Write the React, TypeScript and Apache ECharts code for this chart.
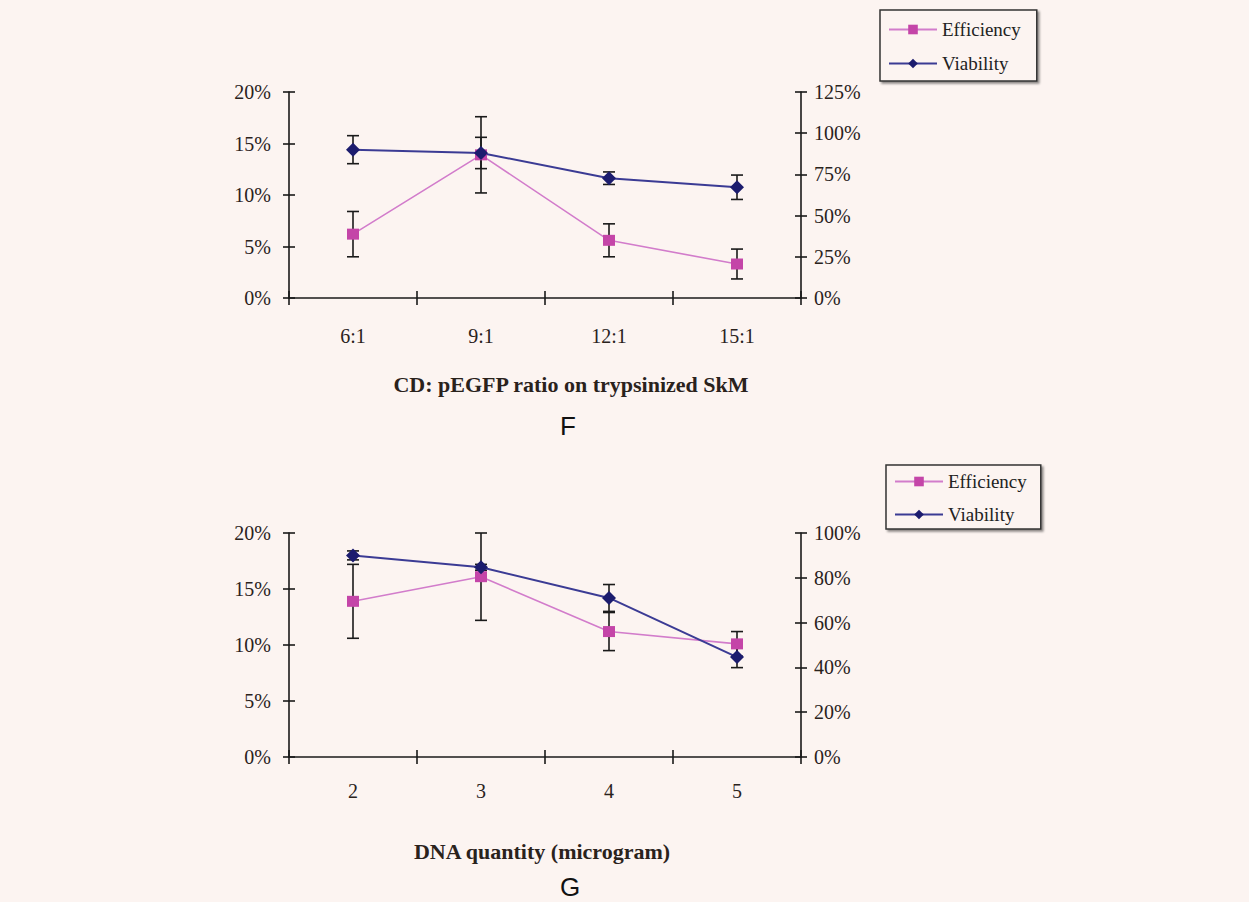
import React, { useEffect, useRef } from "react";
import * as echarts from "echarts";

const catsF = ["6:1", "9:1", "12:1", "15:1"];
const effF = [6.2, 13.9, 5.6, 3.3];
const effFErr = [2.2, 3.7, 1.6, 1.45];
const viaF = [90, 88, 72.7, 67.2];
const viaFErr = [8.5, 9.5, 3.8, 7.4];

const catsG = ["2", "3", "4", "5"];
const effG = [13.9, 16.1, 11.2, 10.1];
const effGErr = [3.3, 3.9, 1.7, 1.1];
const viaG = [90, 84.7, 71, 44.6];
const viaGErr = [2, 1.3, 6, 4.7];

const titleF = "CD: pEGFP ratio on trypsinized SkM";
const titleG = "DNA quantity (microgram)";

const BG = "#fcf4f1";
const INK = "#2a221c";
const EFF_LINE = "#d27ccb";
const EFF_MARK = "#c445a8";
const VIA_LINE = "#3b3b94";
const VIA_MARK = "#1c1c6e";
const SERIF = "'Liberation Serif', 'Times New Roman', serif";

function errData(vals: number[], errs: number[]) {
  return vals.map((v, i) => [i, v - errs[i], v + errs[i]]);
}

const renderErr = (params: any, api: any) => {
  const x = api.value(0);
  const lo = api.coord([x, api.value(1)]);
  const hi = api.coord([x, api.value(2)]);
  const w = 6;
  const style = { stroke: "#1a1a1a", lineWidth: 1.6 };
  return {
    type: "group",
    children: [
      { type: "line", shape: { x1: lo[0], y1: lo[1], x2: hi[0], y2: hi[1] }, style },
      { type: "line", shape: { x1: lo[0] - w, y1: lo[1], x2: lo[0] + w, y2: lo[1] }, style },
      { type: "line", shape: { x1: hi[0] - w, y1: hi[1], x2: hi[0] + w, y2: hi[1] }, style },
    ],
  };
};

function xAxes(grid: number, cats: string[], margin: number) {
  const base = {
    gridIndex: grid,
    type: "category",
    data: cats,
    boundaryGap: true,
    position: "bottom",
  };
  return [
    {
      ...base,
      axisLine: { lineStyle: { color: "#1a1a1a", width: 1.6 } },
      axisTick: { show: true, length: 7, inside: false, lineStyle: { color: "#1a1a1a", width: 1.6 } },
      axisLabel: { margin, color: INK, fontFamily: SERIF, fontSize: 20 },
      splitLine: { show: false },
    },
    {
      ...base,
      axisLine: { show: false },
      axisTick: { show: true, length: 7, inside: true, lineStyle: { color: "#1a1a1a", width: 1.6 } },
      axisLabel: { show: false },
      splitLine: { show: false },
    },
  ];
}

function yAxis(grid: number, pos: string, max: number, interval: number, dup: boolean) {
  return {
    gridIndex: grid,
    type: "value",
    position: pos,
    min: 0,
    max,
    interval,
    axisLine: { show: !dup, lineStyle: { color: "#1a1a1a", width: 1.6 } },
    axisTick: { show: true, length: 6, inside: dup, lineStyle: { color: "#1a1a1a", width: 1.6 } },
    axisLabel: {
      show: !dup,
      formatter: "{value}%",
      margin: pos === "left" ? 18 : 13,
      color: INK,
      fontFamily: SERIF,
      fontSize: 20,
    },
    splitLine: { show: false },
  };
}

function lineSeries(name: string, x: number, y: number, data: number[], eff: boolean) {
  return {
    name,
    type: "line",
    xAxisIndex: x,
    yAxisIndex: y,
    data,
    symbol: eff ? "rect" : "diamond",
    symbolSize: eff ? [12, 11] : [14, 14],
    itemStyle: { color: eff ? EFF_MARK : VIA_MARK },
    lineStyle: { color: eff ? EFF_LINE : VIA_LINE, width: eff ? 1.6 : 2 },
    z: 3,
  };
}

function errSeries(x: number, y: number, vals: number[], errs: number[]) {
  return {
    type: "custom",
    xAxisIndex: x,
    yAxisIndex: y,
    data: errData(vals, errs),
    encode: { x: 0, y: [1, 2] },
    renderItem: renderErr,
    z: 2,
    silent: true,
  };
}

function legend(left: number, top: number, pad: number[], gap: number) {
  return {
    left,
    top,
    orient: "vertical",
    data: ["Efficiency", "Viability"],
    padding: pad,
    itemGap: gap,
    itemWidth: 48,
    itemHeight: 12,
    borderColor: "#333",
    borderWidth: 1.5,
    backgroundColor: BG,
    shadowColor: "rgba(0,0,0,0.45)",
    shadowOffsetX: 2,
    shadowOffsetY: 2,
    shadowBlur: 2,
    textStyle: { fontFamily: SERIF, fontSize: 19, color: "#222" },
  };
}

export default function App() {
  const ref = useRef<HTMLDivElement>(null);
  useEffect(() => {
    if (!ref.current) return;
    const chart = echarts.init(ref.current, undefined, { renderer: "svg" });
    chart.setOption({
      animation: false,
      backgroundColor: BG,
      grid: [
        { left: 289, top: 92, width: 512, height: 206 },
        { left: 289, top: 533, width: 512, height: 224 },
      ],
      xAxis: [...xAxes(0, catsF, 28), ...xAxes(1, catsG, 24)],
      yAxis: [
        yAxis(0, "left", 20, 5, false),
        yAxis(0, "right", 125, 25, false),
        yAxis(0, "left", 20, 5, true),
        yAxis(0, "right", 125, 25, true),
        yAxis(1, "left", 20, 5, false),
        yAxis(1, "right", 100, 20, false),
        yAxis(1, "left", 20, 5, true),
        yAxis(1, "right", 100, 20, true),
      ],
      legend: [legend(880, 10, [10, 16, 8, 8], 15), legend(886, 465, [7, 14, 5, 8], 14)],
      series: [
        errSeries(0, 0, effF, effFErr),
        errSeries(0, 1, viaF, viaFErr),
        lineSeries("Efficiency", 0, 0, effF, true),
        lineSeries("Viability", 0, 1, viaF, false),
        errSeries(2, 4, effG, effGErr),
        errSeries(2, 5, viaG, viaGErr),
        lineSeries("Efficiency", 2, 4, effG, true),
        lineSeries("Viability", 2, 5, viaG, false),
      ],
      graphic: [
        {
          type: "text",
          x: 571,
          y: 384,
          style: {
            text: titleF,
            align: "center",
            verticalAlign: "middle",
            font: `bold 22px ${SERIF}`,
            fill: INK,
          },
        },
        {
          type: "text",
          x: 568,
          y: 426,
          style: {
            text: "F",
            align: "center",
            verticalAlign: "middle",
            font: "26px 'Liberation Sans', Arial, sans-serif",
            fill: "#111",
          },
        },
        {
          type: "text",
          x: 542,
          y: 851,
          style: {
            text: titleG,
            align: "center",
            verticalAlign: "middle",
            font: `bold 22px ${SERIF}`,
            fill: INK,
          },
        },
        {
          type: "text",
          x: 570,
          y: 887,
          style: {
            text: "G",
            align: "center",
            verticalAlign: "middle",
            font: "26px 'Liberation Sans', Arial, sans-serif",
            fill: "#111",
          },
        },
      ],
    });
    return () => chart.dispose();
  }, []);
  return (
    <div
      ref={ref}
      style={{ position: "fixed", left: 0, top: 0, width: 1249, height: 902, background: BG }}
    />
  );
}
